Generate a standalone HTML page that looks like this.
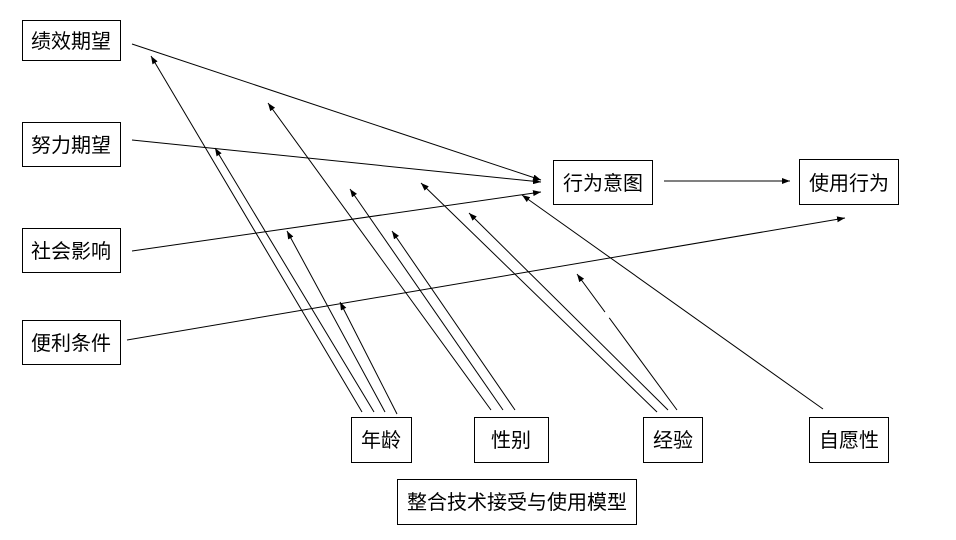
<!DOCTYPE html>
<html><head><meta charset="utf-8"><style>
html,body{margin:0;padding:0;background:#fff;}
svg{display:block;}
text{font-family:"Liberation Sans","Noto Sans CJK SC",sans-serif;font-size:20px;fill:#000;}
</style></head><body>
<svg width="956" height="540" viewBox="0 0 956 540" xmlns="http://www.w3.org/2000/svg">
<defs><marker id="a" markerWidth="8" markerHeight="6" refX="8" refY="3" orient="auto" markerUnits="userSpaceOnUse"><path d="M0,0 L8,3 L0,6 z" fill="#000"/></marker></defs>
<g fill="#fff" stroke="#000" stroke-width="1">
<rect x="22.5" y="20.5" width="98" height="40"/>
<rect x="22.5" y="122.5" width="98" height="44"/>
<rect x="22.5" y="228.5" width="98" height="44"/>
<rect x="22.5" y="320.5" width="98" height="44"/>
<rect x="553.5" y="160.5" width="99" height="44"/>
<rect x="799.5" y="159.5" width="99" height="45"/>
<rect x="351.5" y="417.5" width="60" height="45"/>
<rect x="474.5" y="417.5" width="74" height="45"/>
<rect x="643.5" y="417.5" width="59" height="45"/>
<rect x="809.5" y="417.5" width="79" height="45"/>
<rect x="397.5" y="479.5" width="239" height="45"/>
</g>
<g stroke="#000" stroke-width="1" fill="none" marker-end="url(#a)">
<line x1="132" y1="44" x2="541" y2="180"/>
<line x1="132" y1="140" x2="541" y2="182"/>
<line x1="132" y1="251" x2="541" y2="192"/>
<line x1="127" y1="340" x2="845" y2="218"/>
<line x1="664" y1="181" x2="790" y2="181"/>
<line x1="362" y1="412" x2="151" y2="56"/>
<line x1="374" y1="412" x2="215" y2="148"/>
<line x1="385" y1="412" x2="287" y2="231"/>
<line x1="397" y1="414" x2="340" y2="302"/>
<line x1="491" y1="410" x2="268" y2="103"/>
<line x1="503" y1="410" x2="350" y2="189"/>
<line x1="515" y1="410" x2="392" y2="231"/>
<line x1="657" y1="412" x2="421" y2="183"/>
<line x1="668" y1="410" x2="469" y2="213"/>
<line x1="677" y1="410" x2="577" y2="274"/>
<line x1="823" y1="409" x2="522" y2="195"/>
</g>
<line x1="609" y1="318" x2="605" y2="312" stroke="#fff" stroke-width="3"/>
<text x="71" y="48" text-anchor="middle">绩效期望</text>
<text x="71" y="152" text-anchor="middle">努力期望</text>
<text x="71" y="258" text-anchor="middle">社会影响</text>
<text x="71" y="350" text-anchor="middle">便利条件</text>
<text x="603" y="190" text-anchor="middle">行为意图</text>
<text x="849" y="190" text-anchor="middle">使用行为</text>
<text x="381" y="447" text-anchor="middle">年龄</text>
<text x="511" y="447" text-anchor="middle">性别</text>
<text x="673" y="447" text-anchor="middle">经验</text>
<text x="849" y="447" text-anchor="middle">自愿性</text>
<text x="517" y="509" text-anchor="middle">整合技术接受与使用模型</text>
</svg>
</body></html>
